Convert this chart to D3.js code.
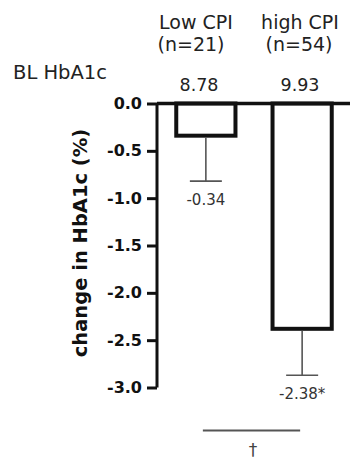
<!DOCTYPE html>
<html>
<head>
<meta charset="utf-8">
<script src="https://cdn.jsdelivr.net/npm/d3@7/dist/d3.min.js"></script>
<style>
  body { margin: 0; background: #fff; }
  svg { display: block; font-family: "DejaVu Sans", sans-serif; }
</style>
</head>
<body>
<svg id="chart" width="350" height="462"></svg>
<script>
// groups and values
const groups = ['Low CPI', 'high CPI'];
const groupN = ['(n=21)', '(n=54)'];
const baseline = ['8.78', '9.93'];
const change = [-0.34, -2.38];
const errors = [0.48, 0.49];
const valueLabels = ['-0.34', '-2.38*'];
const yTicks = [0, -0.5, -1.0, -1.5, -2.0, -2.5, -3.0];

const svg = d3.select('#chart');

const x = d3.scaleBand()
  .domain(groups)
  .range([157, 351])
  .paddingInner(0.385)
  .paddingOuter(0.2);

const y = d3.scaleLinear()
  .domain([-3, 0])
  .range([387.5, 103.5]);

// header labels sit a bit left of the first bar in the original
const xHead = d3.scalePoint().domain(groups).range([196, 300]);

const cx = (d) => x(d) + x.bandwidth() / 2;

// y axis
const yAxis = d3.axisLeft(y)
  .tickValues(yTicks)
  .tickSize(10)
  .tickPadding(5)
  .tickFormat(d3.format('.1f'));

const ag = svg.append('g')
  .attr('transform', 'translate(157,0)')
  .call(yAxis);

ag.select('.domain')
  .attr('d', 'M0,' + y(0) + 'V' + y(-3))
  .attr('stroke', '#111')
  .attr('stroke-width', 3);
ag.selectAll('.tick line')
  .attr('stroke', '#111')
  .attr('stroke-width', 3);
ag.selectAll('.tick text')
  .attr('fill', '#111')
  .style('font-family', '"DejaVu Sans", sans-serif')
  .style('font-size', '16px')
  .style('font-weight', 'bold')
  .text((d) => d3.format('.1f')(d).replace('−', '-'));

svg.append('text')
  .attr('transform', 'translate(87,' + 243 + ') rotate(-90)')
  .attr('text-anchor', 'middle')
  .style('font-size', '19.5px')
  .style('font-weight', 'bold')
  .attr('fill', '#111')
  .text('change in HbA1c (%)');

// bars
const data = groups.map((g, i) => ({g: g, v: change[i], e: errors[i], lab: valueLabels[i]}));

svg.selectAll('.bar')
  .data(data)
  .enter().append('rect')
  .attr('class', 'bar')
  .attr('x', (d) => x(d.g))
  .attr('y', y(0))
  .attr('width', x.bandwidth())
  .attr('height', (d) => y(d.v) - y(0))
  .attr('fill', '#fff')
  .attr('stroke', '#111')
  .attr('stroke-width', 4);

// zero line across the top
svg.append('line')
  .attr('x1', 157)
  .attr('x2', 350)
  .attr('y1', y(0))
  .attr('y2', y(0))
  .attr('stroke', '#111')
  .attr('stroke-width', 3.5);

// error bars (downwards only)
const eb = svg.selectAll('.err')
  .data(data)
  .enter().append('g')
  .attr('class', 'err');

eb.append('line')
  .attr('x1', (d) => cx(d.g))
  .attr('x2', (d) => cx(d.g))
  .attr('y1', (d) => y(d.v) + 2)
  .attr('y2', (d) => y(d.v - d.e))
  .attr('stroke', '#555')
  .attr('stroke-width', 1.6);

eb.append('line')
  .attr('x1', (d) => cx(d.g) - 16)
  .attr('x2', (d) => cx(d.g) + 16)
  .attr('y1', (d) => y(d.v - d.e))
  .attr('y2', (d) => y(d.v - d.e))
  .attr('stroke', '#555')
  .attr('stroke-width', 1.6);

eb.append('text')
  .attr('x', (d) => cx(d.g))
  .attr('y', (d) => y(d.v - d.e) + 24)
  .attr('text-anchor', 'middle')
  .style('font-size', '15px')
  .attr('fill', '#333')
  .text((d) => d.lab);

// header rows
svg.selectAll('.grp')
  .data(groups)
  .enter().append('text')
  .attr('x', (d) => xHead(d))
  .attr('y', 29)
  .attr('text-anchor', 'middle')
  .style('font-size', '19px')
  .attr('fill', '#222')
  .text((d) => d);

svg.selectAll('.n')
  .data(groupN)
  .enter().append('text')
  .attr('x', (d, i) => xHead(groups[i]) - (i === 0 ? 5 : 1))
  .attr('y', 51)
  .attr('text-anchor', 'middle')
  .style('font-size', '19px')
  .attr('fill', '#222')
  .text((d) => d);

svg.append('text')
  .attr('x', 13)
  .attr('y', 79)
  .style('font-size', '19.5px')
  .attr('fill', '#222')
  .text('BL HbA1c');

svg.selectAll('.bl')
  .data(baseline)
  .enter().append('text')
  .attr('x', (d, i) => xHead(groups[i]) + (i === 0 ? 3 : 0))
  .attr('y', 91)
  .attr('text-anchor', 'middle')
  .style('font-size', '17.5px')
  .attr('fill', '#222')
  .text((d) => d);

// significance bracket between groups
svg.append('line')
  .attr('x1', cx(groups[0]) - 3)
  .attr('x2', cx(groups[1]) - 2)
  .attr('y1', 430.5)
  .attr('y2', 430.5)
  .attr('stroke', '#555')
  .attr('stroke-width', 2);

svg.append('text')
  .attr('x', (cx(groups[0]) + cx(groups[1])) / 2 - 1)
  .attr('y', 456)
  .attr('text-anchor', 'middle')
  .style('font-size', '17px')
  .attr('fill', '#444')
  .text('†');
</script>
</body>
</html>
